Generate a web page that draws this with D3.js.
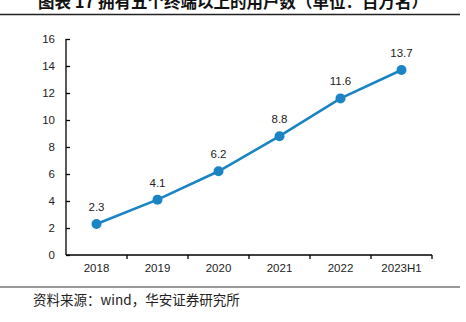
<!DOCTYPE html>
<html><head><meta charset="utf-8">
<script src="https://cdn.jsdelivr.net/npm/d3@7"></script>
<style>body{margin:0;background:#fff}svg{display:block}</style>
</head><body><svg id="c" width="466" height="322"></svg>
<script>
const categories = ["2018","2019","2020","2021","2022","2023H1"];
const values = [2.3,4.1,6.2,8.8,11.6,13.7];
const yTicks = [0,2,4,6,8,10,12,14,16];
const title = "图表 17 拥有五个终端以上的用户数（单位：百万名）";
const source = "资料来源：wind，华安证券研究所";

const svg = d3.select("#c");
const font = "'Liberation Sans', Arial, sans-serif";
const cjk = "'Noto Sans CJK SC', sans-serif";
const x = d3.scaleBand().domain(categories).range([66,432]);
const y = d3.scaleLinear().domain([0,16]).range([255,39]);

svg.append("text").attr("x",233).attr("y",8).attr("text-anchor","middle")
  .attr("font-family",cjk).attr("font-weight","bold").attr("font-size",16.5).attr("fill","#111").text(title);
svg.append("line").attr("x1",0).attr("x2",460).attr("y1",14.5).attr("y2",14.5).attr("stroke","#222").attr("stroke-width",1.5);

const yAxis = svg.append("g").attr("transform","translate(66,0)")
  .call(d3.axisRight(y).tickValues(yTicks).tickSize(4).tickFormat(d3.format("d")));
yAxis.select(".domain").attr("stroke","#000").attr("stroke-width",1.3).attr("d","M0,39V255");
yAxis.selectAll(".tick line").attr("stroke","#000").attr("stroke-width",1.3);
yAxis.selectAll(".tick text").attr("x",-11).attr("text-anchor","end")
  .attr("font-family",font).attr("font-size",11.5).attr("fill","#222");

const xAxis = svg.append("g").attr("transform","translate(0,255)")
  .call(d3.axisBottom(x).tickSize(0).tickPadding(9));
xAxis.select(".domain").attr("stroke","#000").attr("stroke-width",1.3).attr("d","M66,0H432");
xAxis.selectAll(".tick text").attr("font-family",font).attr("font-size",11.5).attr("fill","#222");
const bounds = categories.map(c=>x(c)+x.bandwidth());
svg.append("g").selectAll("line").data(bounds).join("line")
  .attr("x1",d=>d).attr("x2",d=>d).attr("y1",255).attr("y2",259).attr("stroke","#000").attr("stroke-width",1.3);

const color = "#1a84c4";
const line = d3.line().x((d,i)=>x(categories[i])+x.bandwidth()/2).y(d=>y(d));
svg.append("path").datum(values).attr("d",line).attr("fill","none").attr("stroke",color).attr("stroke-width",2.6);
svg.append("g").selectAll("circle").data(values).join("circle")
  .attr("cx",(d,i)=>x(categories[i])+x.bandwidth()/2).attr("cy",d=>y(d)).attr("r",5).attr("fill",color);
svg.append("g").selectAll("text").data(values).join("text")
  .attr("x",(d,i)=>x(categories[i])+x.bandwidth()/2).attr("y",d=>y(d)-13).attr("text-anchor","middle")
  .attr("font-family",font).attr("font-size",11.5).attr("fill","#222").text(d=>d.toFixed(1));

svg.append("line").attr("x1",0).attr("x2",460).attr("y1",287).attr("y2",287).attr("stroke","#777").attr("stroke-width",1.5);
svg.append("text").attr("x",33).attr("y",305).attr("font-family",cjk).attr("font-size",13.5).attr("fill","#222").text(source);
</script></body></html>
